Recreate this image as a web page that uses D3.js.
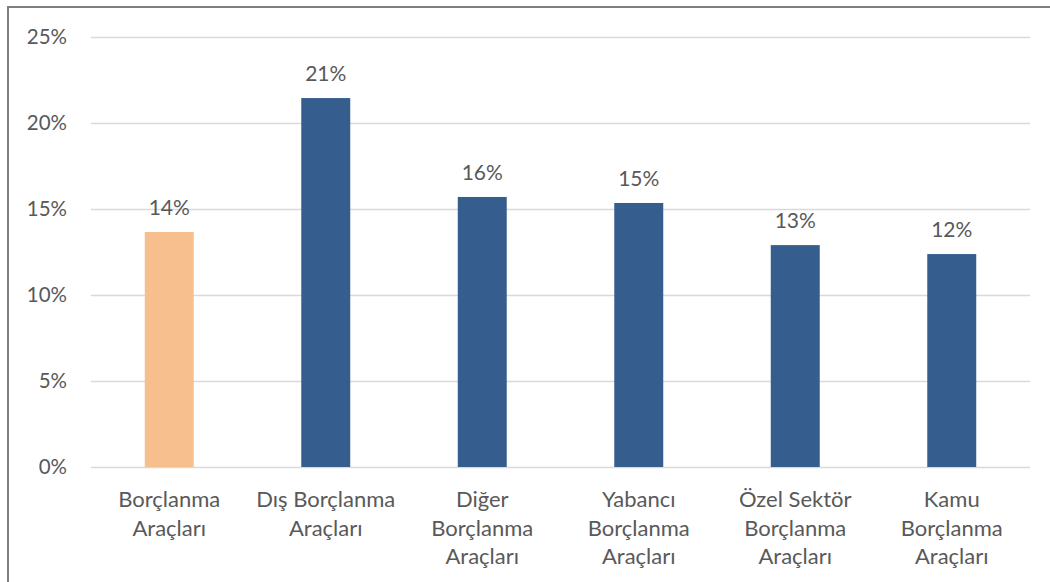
<!DOCTYPE html>
<html>
<head>
<meta charset="utf-8">
<script src="https://cdn.jsdelivr.net/npm/d3@7"></script>
<style>
  body { margin: 0; background: #fff; }
  svg text { font-family: Lato, "Open Sans", sans-serif; fill: #595959; }
</style>
</head>
<body>
<svg id="chart" width="1050" height="582"></svg>
<script>
const categories = [
  ["Borçlanma", "Araçları"],
  ["Dış Borçlanma", "Araçları"],
  ["Diğer", "Borçlanma", "Araçları"],
  ["Yabancı", "Borçlanma", "Araçları"],
  ["Özel Sektör", "Borçlanma", "Araçları"],
  ["Kamu", "Borçlanma", "Araçları"]
];
const values = [13.66, 21.45, 15.7, 15.35, 12.9, 12.38];
const barColors = ["#F8BF8E", "#355E8F", "#355E8F", "#355E8F", "#355E8F", "#355E8F"];
const yTicks = [0, 5, 10, 15, 20, 25];

const margin = {top: 37, right: 20, bottom: 115, left: 91};
const width = 1030 - margin.left;
const height = 467 - margin.top;

const svg = d3.select("#chart");

// frame
svg.append("path")
  .attr("d", "M8,582 L8,7 L1050,7")
  .attr("fill", "none")
  .attr("stroke", "#7f7f7f")
  .attr("stroke-width", 2);

const g = svg.append("g")
  .attr("transform", `translate(${margin.left},${margin.top})`);

const x = d3.scaleBand()
  .domain(d3.range(categories.length))
  .range([0, width])
  .paddingInner(0.687)
  .paddingOuter(0.3435);

const y = d3.scaleLinear()
  .domain([0, 25])
  .range([height, 0]);

// gridlines + y labels
const yAxis = g.append("g")
  .call(d3.axisLeft(y).tickValues(yTicks).tickSize(-width).tickPadding(24).tickFormat(d => d + "%"));
yAxis.select(".domain").remove();
yAxis.selectAll(".tick line").attr("stroke", "#d9d9d9").attr("stroke-width", 1.5);
yAxis.selectAll(".tick text")
  .style("font-size", "20.5px")
  .style("font-family", "Lato, sans-serif")
  .attr("fill", "#595959");

// bars
g.selectAll("rect.bar")
  .data(values)
  .join("rect")
  .attr("class", "bar")
  .attr("x", (d, i) => x(i))
  .attr("y", d => y(d))
  .attr("width", x.bandwidth())
  .attr("height", d => height - y(d))
  .attr("fill", (d, i) => barColors[i]);

// value labels
g.selectAll("text.val")
  .data(values)
  .join("text")
  .attr("class", "val")
  .attr("x", (d, i) => x(i) + x.bandwidth() / 2)
  .attr("y", d => y(d) - 17)
  .attr("text-anchor", "middle")
  .style("font-size", "21px")
  .text(d => Math.round(d) + "%");

// category labels
const cat = g.selectAll("text.cat")
  .data(categories)
  .join("text")
  .attr("class", "cat")
  .attr("text-anchor", "middle")
  .attr("transform", (d, i) => `translate(${x(i) + x.bandwidth() / 2},${height + 40})`)
  .style("font-size", "22px");
cat.selectAll("tspan")
  .data(d => d)
  .join("tspan")
  .attr("x", 0)
  .attr("dy", (d, i) => i === 0 ? 0 : 28.5)
  .text(d => d);
</script>
</body>
</html>
